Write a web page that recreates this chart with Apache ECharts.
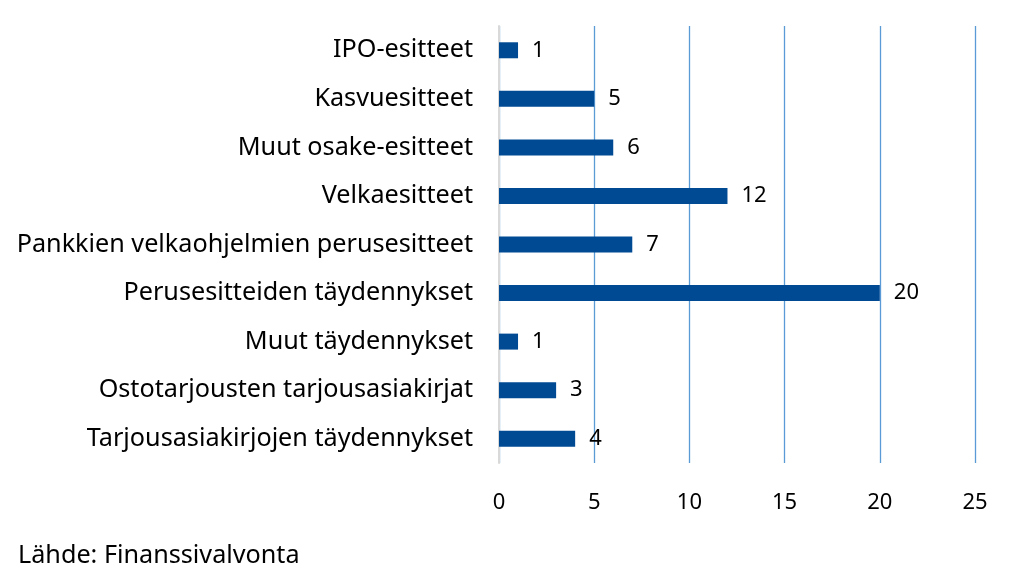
<!DOCTYPE html>
<html><head><meta charset="utf-8">
<script src="https://cdn.jsdelivr.net/npm/echarts@6/dist/echarts.min.js"></script>
<style>html,body{margin:0;padding:0;background:#fff}#c{width:1016px;height:581px}</style>
</head><body><div id="c"></div>
<script>
const categories = ["IPO-esitteet","Kasvuesitteet","Muut osake-esitteet","Velkaesitteet","Pankkien velkaohjelmien perusesitteet","Perusesitteiden täydennykset","Muut täydennykset","Ostotarjousten tarjousasiakirjat","Tarjousasiakirjojen täydennykset"];
const values = [1,5,6,12,7,20,1,3,4];
const sourceText = "Lähde: Finanssivalvonta";
const font = "Noto Sans";
const chart = echarts.init(document.getElementById('c'));
chart.setOption({
  animation:false,
  textStyle:{fontFamily:font},
  grid:{left:499,right:41,top:26,bottom:118,containLabel:false},
  xAxis:{type:'value',min:0,max:25,interval:5,
    axisLine:{show:false},axisTick:{show:false},
    axisLabel:{color:'#000',fontSize:22,margin:29,fontFamily:font},
    splitLine:{show:true,lineStyle:{color:'#5b9bd5',width:1.3}}},
  yAxis:{type:'category',data:categories,inverse:true,
    axisLine:{show:true,lineStyle:{color:'#d9d9d9',width:2}},axisTick:{show:false},
    axisLabel:{color:'#000',fontSize:25.2,margin:26,fontFamily:font}},
  series:[{type:'bar',data:values,barWidth:16,
    itemStyle:{color:'#004a93'},
    label:{show:true,position:'right',distance:14,color:'#000',fontSize:22,fontFamily:font}}],
  graphic:[{type:'text',left:18,top:543,style:{text:sourceText,fontSize:25.2,fill:'#000',fontFamily:font}}]
});
</script></body></html>
